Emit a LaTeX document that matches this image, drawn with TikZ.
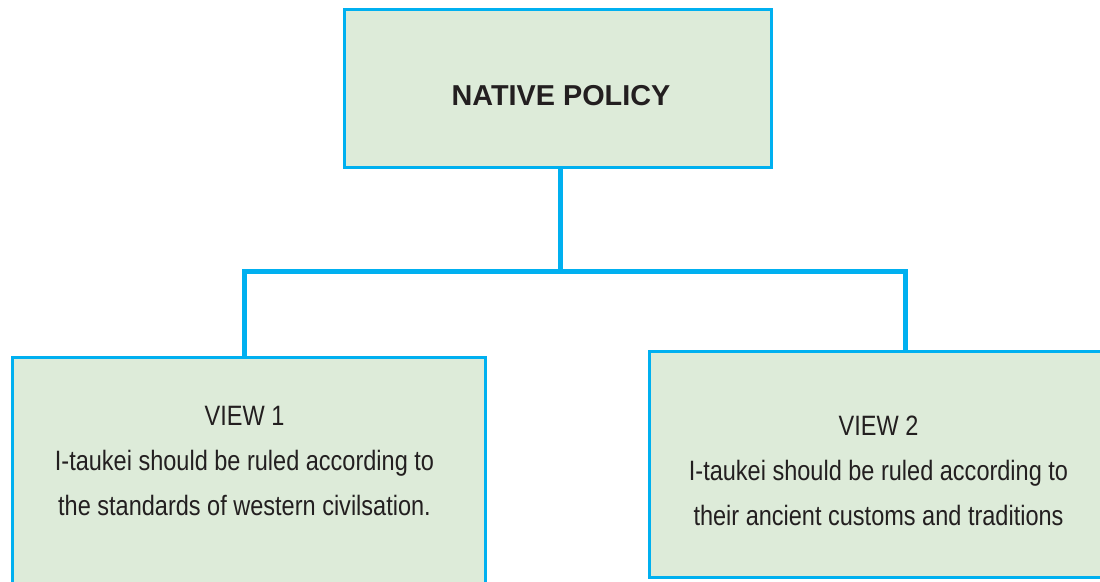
\documentclass[tikz,border=0pt]{standalone}
\usepackage{fontspec}
\setmainfont{Liberation Sans}
\newfontfamily\narrowsans{Liberation Sans}[FakeStretch=0.84]
\definecolor{linkblue}{HTML}{00B0F0}
\definecolor{boxfill}{HTML}{DDEBD9}
\definecolor{ink}{HTML}{231F20}

\begin{document}
\begin{tikzpicture}[x=1pt, y=-1pt,
  panel/.style={draw=linkblue, fill=boxfill, line width=3pt, inner sep=0pt},
  link/.style={draw=linkblue, line width=5pt, line join=miter},
  titletext/.style={text=ink, font=\fontsize{28.8}{34}\selectfont\bfseries, inner sep=0pt},
  viewtext/.style={text=ink, align=center, inner sep=0pt,
    font=\narrowsans\fontsize{28}{45}\selectfont}]

  % page frame, everything outside is cut off
  \clip (0,0) rectangle (1100,581);

  % boxes
  \node[panel, minimum width=427pt, minimum height=158pt] (policy) at (557.5,88) {};
  \node[panel, minimum width=473pt, minimum height=250pt] (view1) at (248.5,482.5) {};
  \node[panel, minimum width=458pt, minimum height=225.5pt] (view2) at (878,464.25) {};

  % tree connectors
  \coordinate (hub) at (560,271);
  \coordinate (jl) at (244.8,271);
  \coordinate (jr) at (905,271);
  \draw[link] (policy.south -| hub) -- (hub);
  \draw[link] ([yshift=-1.5pt]view1.north -| jl) -- (jl) -- (jr) -- ([yshift=-1.5pt]view2.north -| jr);

  % labels (base anchor sits on the last line)
  \node[titletext, anchor=base] (policylabel) at (561,105) {NATIVE POLICY};
  \node[viewtext, anchor=base] (view1label) at (244.5,515)
    {VIEW 1\\I-taukei should be ruled according to\\the standards of western civilsation.};
  \node[viewtext, anchor=base] (view2label) at (878.5,525)
    {VIEW 2\\I-taukei should be ruled according to\\their ancient customs and traditions};
\end{tikzpicture}
\end{document}
